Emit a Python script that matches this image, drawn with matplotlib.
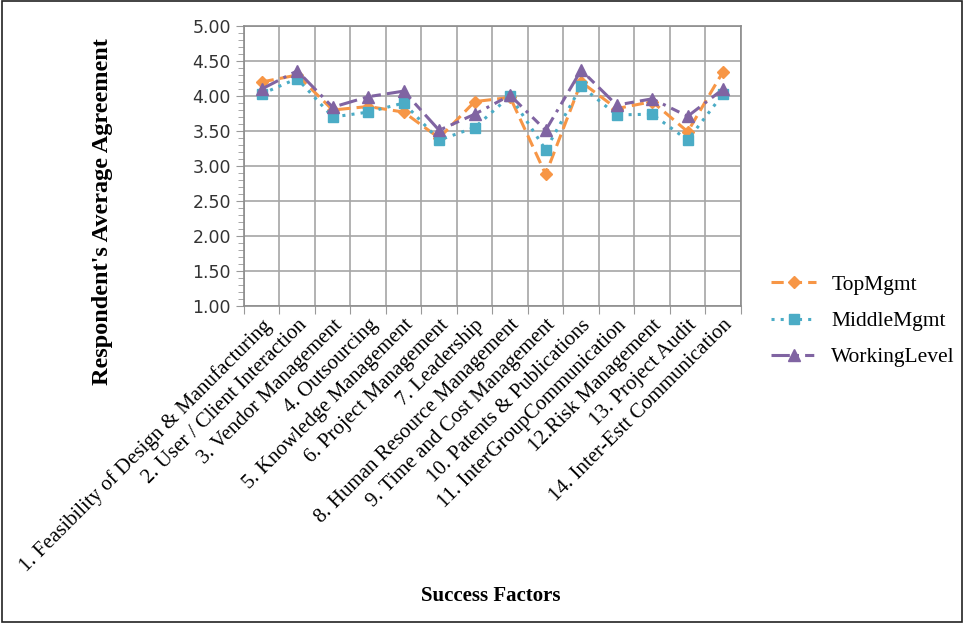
import matplotlib
matplotlib.use("Agg")
import matplotlib.pyplot as plt
from matplotlib.patches import Rectangle
from matplotlib.ticker import MultipleLocator

factors = [
    "1. Feasibility of Design & Manufacturing",
    "2. User / Client Interaction",
    "3. Vendor Management",
    "4. Outsourcing",
    "5. Knowledge Management",
    "6. Project Management",
    "7. Leadership",
    "8. Human Resource Management",
    "9. Time and Cost Management",
    "10. Patents & Publications",
    "11. InterGroupCommunication",
    "12.Risk Management",
    "13. Project Audit",
    "14. Inter-Estt Communication",
]
top_mgmt = [4.20, 4.30, 3.80, 3.85, 3.77, 3.40, 3.92, 3.98, 2.88, 4.20, 3.82, 3.92, 3.49, 4.35]
middle_mgmt = [4.03, 4.25, 3.70, 3.77, 3.90, 3.37, 3.55, 4.00, 3.23, 4.14, 3.73, 3.74, 3.37, 4.03]
working_level = [4.10, 4.36, 3.84, 3.99, 4.07, 3.51, 3.74, 4.01, 3.51, 4.37, 3.87, 3.96, 3.71, 4.10]

serif = "Liberation Serif"

fig = plt.figure(figsize=(9.65, 6.27), dpi=100)
ax = fig.add_axes([0.2528, 0.512, 0.5150, 0.4465])

x = list(range(len(factors)))
ax.plot(x, top_mgmt, color="#F79646", linestyle=(0, (4, 2)), linewidth=2.2,
        marker="D", markersize=6, label="TopMgmt")
ax.plot(x, middle_mgmt, color="#4BACC6", linestyle=(0, (1, 2)), linewidth=2.2,
        marker="s", markersize=7.5, label="MiddleMgmt")
ax.plot(x, working_level, color="#8064A2", linestyle=(0, (6, 2, 1, 2, 3, 2)), linewidth=2.2,
        marker="^", markersize=8.5, label="WorkingLevel")

ax.set_xlim(-0.5, len(factors) - 0.5)
ax.set_ylim(1.0, 5.0)
ax.yaxis.set_major_locator(MultipleLocator(0.5))
ax.yaxis.set_minor_locator(MultipleLocator(0.1))
ax.yaxis.set_major_formatter(plt.FuncFormatter(lambda v, _: f"{v:.2f}"))

# category boundaries carry the gridlines and ticks
ax.set_xticks([i - 0.5 for i in range(len(factors) + 1)])
ax.set_xticklabels([])
ax.set_xticks(x, minor=True)
ax.set_xticklabels(factors, minor=True, rotation=45, ha="right", va="top",
                   rotation_mode="anchor", fontfamily=serif, fontsize=15)
ax.tick_params(axis="x", which="minor", length=0, pad=7)
ax.tick_params(axis="x", which="major", length=6, color="#999999", direction="out")
ax.tick_params(axis="y", which="major", length=6, color="#999999", labelsize=12.5,
               labelcolor="#333333", direction="out")
ax.tick_params(axis="y", which="minor", length=4, color="#999999", direction="out")

ax.grid(True, which="major", color="#a6a6a6", linewidth=1.2)
ax.set_axisbelow(True)
for side in ax.spines.values():
    side.set_color("#8c8c8c")
    side.set_linewidth(1.2)

fig.text(103 / 965, 1 - 212 / 627, "Respondent's Average Agreement", fontfamily=serif,
         fontsize=17.5, fontweight="bold", rotation=90, ha="center", va="center")
fig.text(491 / 965, 1 - 596 / 627, "Success Factors", fontfamily=serif, fontsize=15,
         fontweight="bold", ha="center", va="center")

fig.legend(loc="center left", bbox_to_anchor=(771 / 965, 1 - 321 / 627), frameon=False,
           prop={"family": serif, "size": 15.5}, handlelength=2.1,
           handletextpad=0.7, labelspacing=0.75, borderaxespad=0, borderpad=0)

fig.patches.append(Rectangle((0.002, 0.008), 0.995, 0.99, transform=fig.transFigure,
                             fill=False, edgecolor="#222222", linewidth=1.2))

fig.savefig("out.png", dpi=100)
plt.close(fig)
